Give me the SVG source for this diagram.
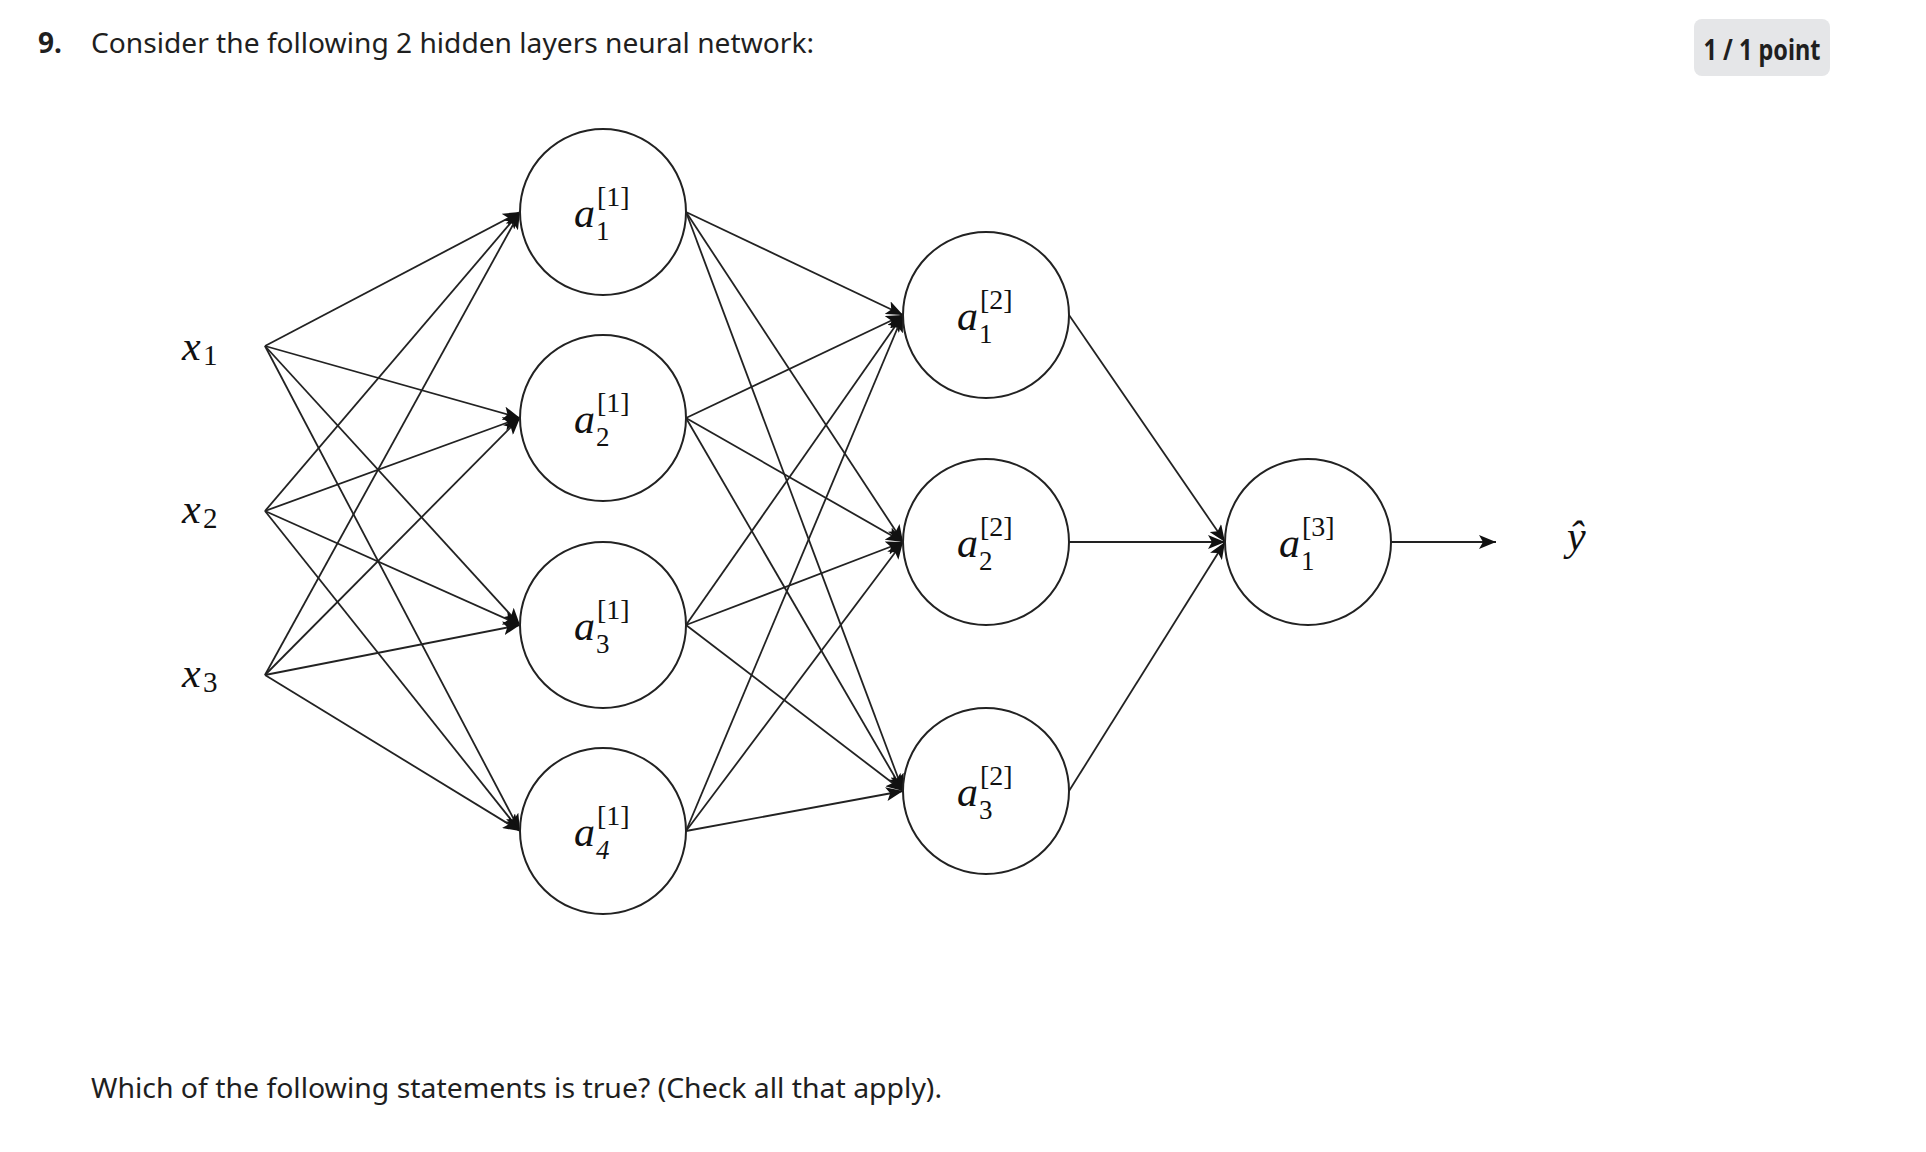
<svg xmlns="http://www.w3.org/2000/svg" width="1926" height="1152" viewBox="0 0 1926 1152">
<style>
.ui{font-family:"Noto Sans","Open Sans","Liberation Sans",sans-serif;fill:#1f1f1f;font-size:28px}
.b{font-weight:700}
.node{fill:#ffffff;stroke:#222;stroke-width:2}
.c{stroke:#222;stroke-width:1.8;fill:none;marker-end:url(#ah)}
.m{font-family:"Liberation Serif","DejaVu Serif",serif;font-style:italic;font-size:42px;fill:#111}
.sup{font-family:"Liberation Serif","DejaVu Serif",serif;font-size:28px;fill:#111}
.sub{font-family:"Liberation Serif","DejaVu Serif",serif;font-size:27px;fill:#111}
.xs{font-family:"Liberation Serif","DejaVu Serif",serif;font-size:29px;fill:#111}
</style>
<defs>
<marker id="ah" markerUnits="userSpaceOnUse" markerWidth="18" markerHeight="14" refX="17" refY="7" orient="auto">
<path d="M0,0 L17,7 L0,14 L4,7 z" fill="#111"/>
</marker>
</defs>
<rect width="1926" height="1152" fill="#ffffff"/>

<g id="header">
<text class="ui b" x="38" y="53">9.</text>
<text class="ui" x="91" y="53" textLength="723" lengthAdjust="spacingAndGlyphs">Consider the following 2 hidden layers neural network:</text>
<rect x="1694" y="19" width="136" height="57" rx="8" fill="#e5e6e8"/>
<text class="ui b" x="1762" y="60" font-size="26" text-anchor="middle" textLength="117" lengthAdjust="spacingAndGlyphs">1 / 1 point</text>
</g>

<g id="connectors">
<line class="c" x1="265" y1="346" x2="520" y2="212"/>
<line class="c" x1="265" y1="346" x2="520" y2="418"/>
<line class="c" x1="265" y1="346" x2="520" y2="625"/>
<line class="c" x1="265" y1="346" x2="520" y2="831"/>
<line class="c" x1="265" y1="511" x2="520" y2="212"/>
<line class="c" x1="265" y1="511" x2="520" y2="418"/>
<line class="c" x1="265" y1="511" x2="520" y2="625"/>
<line class="c" x1="265" y1="511" x2="520" y2="831"/>
<line class="c" x1="265" y1="675" x2="520" y2="212"/>
<line class="c" x1="265" y1="675" x2="520" y2="418"/>
<line class="c" x1="265" y1="675" x2="520" y2="625"/>
<line class="c" x1="265" y1="675" x2="520" y2="831"/>

<line class="c" x1="686" y1="212" x2="903" y2="315"/>
<line class="c" x1="686" y1="212" x2="903" y2="542"/>
<line class="c" x1="686" y1="212" x2="903" y2="791"/>
<line class="c" x1="686" y1="418" x2="903" y2="315"/>
<line class="c" x1="686" y1="418" x2="903" y2="542"/>
<line class="c" x1="686" y1="418" x2="903" y2="791"/>
<line class="c" x1="686" y1="625" x2="903" y2="315"/>
<line class="c" x1="686" y1="625" x2="903" y2="542"/>
<line class="c" x1="686" y1="625" x2="903" y2="791"/>
<line class="c" x1="686" y1="831" x2="903" y2="315"/>
<line class="c" x1="686" y1="831" x2="903" y2="542"/>
<line class="c" x1="686" y1="831" x2="903" y2="791"/>

<line class="c" x1="1069" y1="315" x2="1225" y2="542"/>
<line class="c" x1="1069" y1="542" x2="1225" y2="542"/>
<line class="c" x1="1069" y1="791" x2="1225" y2="542"/>

<line class="c" x1="1391" y1="542" x2="1496" y2="542"/>
</g>

<g id="x1"><text class="m" x="182" y="360">x</text><text class="xs" x="203" y="365">1</text></g>
<g id="x2"><text class="m" x="182" y="523">x</text><text class="xs" x="203" y="528">2</text></g>
<g id="x3"><text class="m" x="182" y="687">x</text><text class="xs" x="203" y="692">3</text></g>

<g id="a1_1"><circle class="node" cx="603" cy="212" r="83"/><text class="m" x="574" y="227">a</text><text class="sup" x="597" y="206">[1]</text><text class="sub" x="596" y="240">1</text></g>
<g id="a2_1"><circle class="node" cx="603" cy="418" r="83"/><text class="m" x="574" y="433">a</text><text class="sup" x="597" y="412">[1]</text><text class="sub" x="596" y="446">2</text></g>
<g id="a3_1"><circle class="node" cx="603" cy="625" r="83"/><text class="m" x="574" y="640">a</text><text class="sup" x="597" y="619">[1]</text><text class="sub" x="596" y="653">3</text></g>
<g id="a4_1"><circle class="node" cx="603" cy="831" r="83"/><text class="m" x="574" y="846">a</text><text class="sup" x="597" y="825">[1]</text><text class="sub" x="596" y="859" font-style="italic">4</text></g>

<g id="a1_2"><circle class="node" cx="986" cy="315" r="83"/><text class="m" x="957" y="330">a</text><text class="sup" x="980" y="309">[2]</text><text class="sub" x="979" y="343">1</text></g>
<g id="a2_2"><circle class="node" cx="986" cy="542" r="83"/><text class="m" x="957" y="557">a</text><text class="sup" x="980" y="536">[2]</text><text class="sub" x="979" y="570">2</text></g>
<g id="a3_2"><circle class="node" cx="986" cy="791" r="83"/><text class="m" x="957" y="806">a</text><text class="sup" x="980" y="785">[2]</text><text class="sub" x="979" y="819">3</text></g>

<g id="a1_3"><circle class="node" cx="1308" cy="542" r="83"/><text class="m" x="1279" y="557">a</text><text class="sup" x="1302" y="536">[3]</text><text class="sub" x="1301" y="570">1</text></g>

<g id="yhat"><text class="m" x="1567" y="550">ŷ</text></g>

<g id="footer">
<text class="ui" x="91" y="1098" textLength="851" lengthAdjust="spacingAndGlyphs">Which of the following statements is true? (Check all that apply).</text>
</g>
</svg>
